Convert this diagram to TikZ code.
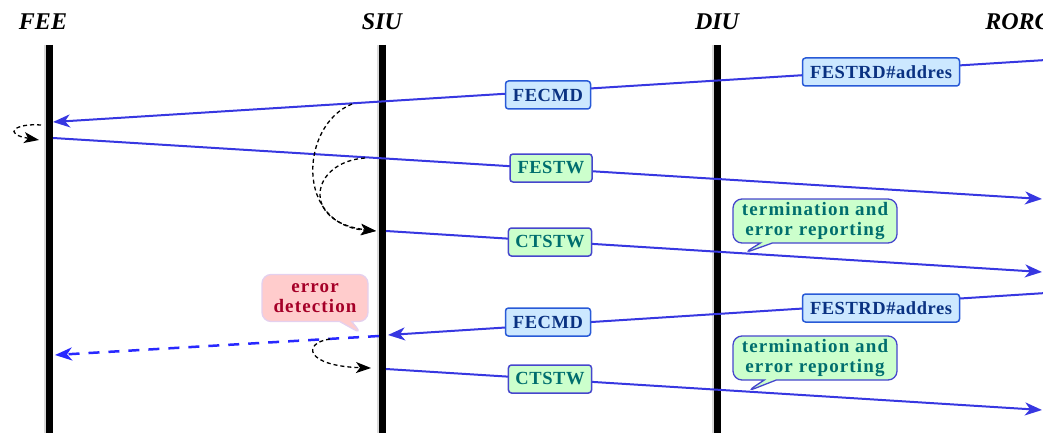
\documentclass[tikz,border=0pt]{standalone}
\usepackage{fontspec}
\setmainfont{Liberation Serif}
\newfontfamily\lblfont[LetterSpace=3]{Liberation Serif}
\newfontfamily\callfont[LetterSpace=6]{Liberation Serif}
\usetikzlibrary{arrows.meta,shapes.callouts}
\definecolor{msgblue}{RGB}{55,55,225}
\definecolor{dashblue}{RGB}{40,40,255}
\definecolor{cmdfill}{RGB}{204,232,255}
\definecolor{cmdborder}{RGB}{40,90,215}
\definecolor{cmdtext}{RGB}{10,50,130}
\definecolor{grnfill}{RGB}{204,255,204}
\definecolor{grnborder}{RGB}{70,70,205}
\definecolor{grntext}{RGB}{0,110,110}
\definecolor{pinkfill}{RGB}{255,204,204}
\definecolor{pinkborder}{RGB}{228,208,238}
\definecolor{pinktext}{RGB}{165,0,40}
\begin{document}
\begin{tikzpicture}[x=1pt,y=-1pt,
  lifeshade/.style={line width=9pt, black!15},
  lifeline/.style={line width=7pt, black},
  actor/.style={font=\fontsize{24}{26}\selectfont\bfseries\itshape, inner sep=0pt},
  msg/.style={draw=msgblue, line width=2pt, -{Stealth[length=17pt,width=13pt,inset=5pt]}},
  lostmsg/.style={draw=dashblue, line width=2.5pt, dash pattern=on 11pt off 9pt, -{Stealth[length=17pt,width=13pt,inset=5pt]}},
  flow/.style={draw=black, line width=1.3pt, dash pattern=on 4pt off 3pt, -{Stealth[length=15pt,width=11pt,inset=4pt]}},
  cmdbox/.style={draw=cmdborder, fill=cmdfill, text=cmdtext, line width=1.5pt, rounded corners=3pt,
    font=\lblfont\bfseries\fontsize{18.5}{20}\selectfont, inner xsep=7pt, inner ysep=2pt, minimum height=28pt},
  stwbox/.style={cmdbox, draw=grnborder, fill=grnfill, text=grntext},
  callgreen/.style={rectangle callout, draw=grnborder, fill=grnfill, text=grntext, line width=1.3pt,
    rounded corners=9pt, font=\callfont\bfseries\fontsize{19}{20}\selectfont, align=center,
    inner xsep=6pt, inner ysep=3pt, callout pointer width=12pt},
  callpink/.style={callgreen, draw=pinkborder, fill=pinkfill, text=pinktext}
]
\useasboundingbox (0,0) rectangle (1043,433);

% actors
\node[actor] (FEE) at (43,22) {FEE};
\node[actor] (SIU) at (382,22) {SIU};
\node[actor] (DIU) at (717,22) {DIU};
\node[actor] (RORC) at (1018,22) {RORC};

% lifelines
\coordinate (FEEt) at (49,45);  \coordinate (FEEb) at (49,440);
\coordinate (SIUt) at (382,45); \coordinate (SIUb) at (382,440);
\coordinate (DIUt) at (717,45); \coordinate (DIUb) at (717,440);
\foreach \a in {FEE,SIU,DIU}{
  \draw[lifeshade] ([xshift=-1pt]\a t) -- ([xshift=-1pt]\a b);
  \draw[lifeline] (\a t) -- (\a b);
}

% message end points
\coordinate (r1) at (1046,60);  \coordinate (f1) at (53,122);
\coordinate (f2) at (53,138);   \coordinate (r2) at (1042,199);
\coordinate (s3) at (386,231);  \coordinate (r3) at (1042,272);
\coordinate (r4) at (1046,293); \coordinate (s4) at (388,335);
\coordinate (s4b) at (379,336); \coordinate (f4) at (55,355);
\coordinate (s5) at (386,369);  \coordinate (r5) at (1042,410);

\draw[msg] (r1) -- (f1);
\draw[msg] (f2) -- (r2);
\draw[msg] (s3) -- (r3);
\draw[msg] (r4) -- (s4);
\draw[lostmsg] (s4b) -- (f4);
\draw[msg] (s5) -- (r5);

% pointer targets on the lines
\path (s3) -- (r3) coordinate[pos=0.545] (t1);
\path (s5) -- (r5) coordinate[pos=0.55] (t2);
\coordinate (e1) at (362,334);

% labels
\node[cmdbox, minimum width=157pt] (festrd1) at (881,72) {FESTRD\#addres};
\node[cmdbox, minimum width=85pt] (fecmd1) at (548,95) {FECMD};
\node[stwbox, minimum width=82pt] (festw) at (551,168) {FESTW};
\node[stwbox, minimum width=82pt] (ctstw1) at (550,242) {CTSTW};
\node[cmdbox, minimum width=157pt] (festrd2) at (881,308) {FESTRD\#addres};
\node[cmdbox, minimum width=85pt] (fecmd2) at (548,322) {FECMD};
\node[stwbox, minimum width=82pt] (ctstw2) at (550,379) {CTSTW};

\node[callgreen, minimum width=164pt, minimum height=44pt, callout absolute pointer={(t1)}] (term1) at (815,221) {termination and\\error reporting};
\node[callgreen, minimum width=164pt, minimum height=44pt, callout absolute pointer={(t2)}] (term2) at (815,358) {termination and\\error reporting};
\node[callpink, minimum width=106pt, minimum height=47pt, callout absolute pointer={(e1)}] (errdet) at (315,298) {error\\detection};

% control flow (dashed black)
\coordinate (a0) at (41,125); \coordinate (a1) at (39,140);
\draw[flow] (a0) .. controls (15,123) and (2,134) .. (a1);
\coordinate (b0) at (352,104); \coordinate (b1) at (376,231);
\draw[flow] (b0) .. controls (300,125) and (295,225) .. (b1);
\coordinate (c0) at (365,158);
\draw[flow] (c0) .. controls (310,162) and (300,222) .. (b1);
\coordinate (d0) at (330,339); \coordinate (d1) at (371,368);
\draw[flow] (d0) .. controls (302,343) and (305,366) .. (d1);
\end{tikzpicture}
\end{document}
